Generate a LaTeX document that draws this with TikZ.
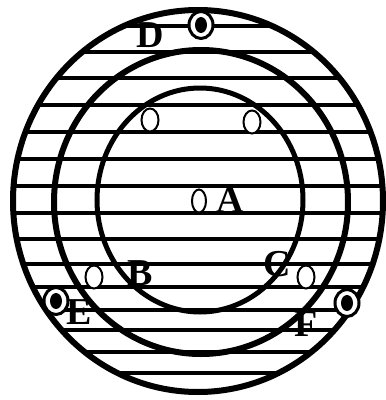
\documentclass[tikz,border=0pt]{standalone}
\usepackage{fontspec}
\setmainfont{Liberation Serif}
\usetikzlibrary{shapes.geometric}

\begin{document}
\begin{tikzpicture}[
  x=1pt, y=-1pt,
  ring/.style={draw=black, line width=6pt},
  hatch/.style={draw=black, line width=4pt},
  hole/.style={ellipse, draw=black, fill=white, line width=2pt,
    minimum width=17pt, minimum height=23pt, inner sep=0pt},
  target/.style={ellipse, draw=black, fill=white, line width=3pt,
    minimum width=24pt, minimum height=27pt, inner sep=0pt},
  bull/.style={ellipse, fill=black, minimum width=12pt, minimum height=16pt, inner sep=0pt},
  tag/.style={font=\fontsize{38}{38}\selectfont\bfseries, inner sep=0pt}
]
\useasboundingbox (0,0) rectangle (386,400);

% ============ HATCHING ============
\begin{scope}
  \clip (198,201) ellipse [x radius=185pt, y radius=191pt];
  \foreach \yy in {26,52,78,105,132,159,186,213,239,264,287,310,330,352,373}
    \draw[hatch] (0,\yy) -- (386,\yy);
\end{scope}

% ============ RINGS ============
\draw[ring] (198,201) ellipse [x radius=185pt, y radius=191pt];
\draw[ring] (201,202) ellipse [x radius=147pt, y radius=152pt];
\draw[ring, line width=5pt] (200,200) ellipse [x radius=103pt, y radius=112pt];

% ============ HOLES ============
\node[hole] (holeL) at (150,120) {};
\node[hole] (holeR) at (252,122) {};
\node[hole, minimum width=14pt] (holeA) at (199,201) {};
\node[hole] (holeB) at (94,277) {};
\node[hole] (holeC) at (306,277) {};

% ============ TARGETS ============
\node[target] (targetD) at (201,25) {};
\node[bull] at (targetD) {};
\node[target] (targetE) at (56,301) {};
\node[bull] at (targetE) {};
\node[target] (targetF) at (347,303) {};
\node[bull] at (targetF) {};

% ============ LABELS ============
\node[tag] (labelD) at (150,35) {D};
\node[tag] (labelA) at (230,200) {A};
\node[tag] (labelB) at (140,273) {B};
\node[tag] (labelC) at (277,264) {C};
\node[tag] (labelE) at (79,312) {E};
\node[tag] (labelF) at (306,324) {F};

\end{tikzpicture}
\end{document}
